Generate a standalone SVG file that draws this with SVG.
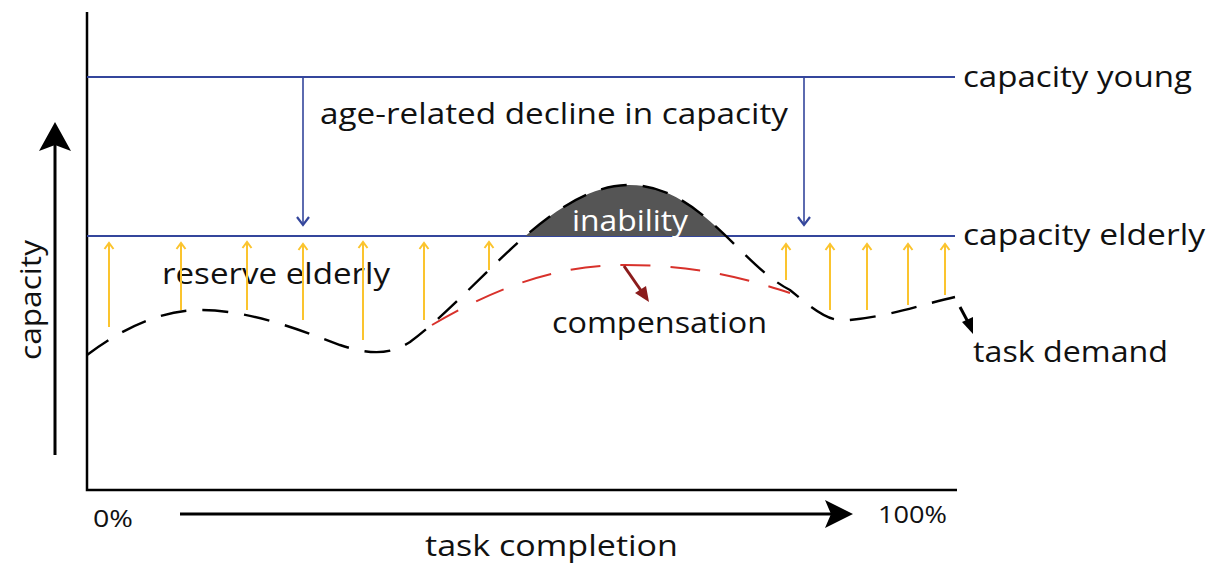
<svg xmlns="http://www.w3.org/2000/svg" width="1217" height="565" viewBox="0 0 1217 565">
  <style>
    text { font-family: "Open Sans", "Liberation Sans", sans-serif; font-size: 29px; fill: #111; }
    .axis { stroke: #000; stroke-width: 2.5; fill: none; }
    .cap { stroke: #34469c; stroke-width: 2.2; fill: none; }
    .decline { stroke: #34469c; stroke-width: 1.6; fill: none; }
    .reserve { stroke: #fbc42e; stroke-width: 2; fill: none; }
    .demand { stroke: #000; stroke-width: 2.4; fill: none; stroke-dasharray: 26 16; }
    .comp { stroke: #d8312b; stroke-width: 2; fill: none; stroke-dasharray: 30 20; }
  </style>
  <defs>
    <!-- open chevron heads, drawn pointing along +x so orient="auto" follows the line -->
    <marker id="headBlue" viewBox="0 0 12 14" refX="10" refY="7" markerWidth="12" markerHeight="14" markerUnits="userSpaceOnUse" orient="auto">
      <path d="M2,1 L10,7 L2,13" fill="none" stroke="#34469c" stroke-width="2.2"/>
    </marker>
    <marker id="headYellow" viewBox="0 0 10 12" refX="8" refY="6" markerWidth="10" markerHeight="12" markerUnits="userSpaceOnUse" orient="auto">
      <path d="M2,1.5 L8,6 L2,10.5" fill="none" stroke="#fbc42e" stroke-width="2"/>
    </marker>
    <clipPath id="aboveElderly">
      <rect x="400" y="0" width="420" height="236"/>
    </clipPath>
  </defs>

  <!-- axes -->
  <g id="axes">
    <path class="axis" d="M87,12 V490 H957"/>
  </g>

  <!-- capacity levels -->
  <g id="capacity-young">
    <line class="cap" x1="87" y1="77" x2="955" y2="77"/>
    <text x="963" y="87" textLength="229" lengthAdjust="spacingAndGlyphs">capacity young</text>
  </g>
  <g id="capacity-elderly">
    <line class="cap" x1="87" y1="236" x2="955" y2="236"/>
    <text x="963" y="245" textLength="242" lengthAdjust="spacingAndGlyphs">capacity elderly</text>
  </g>

  <!-- inability hump: demand above elderly capacity -->
  <g id="inability">
    <path clip-path="url(#aboveElderly)" fill="#555555" d="M410,342 C480,290 550,186 628,185 C700,184 740,265 790,290 Z"/>
    <text x="572" y="231" textLength="116" lengthAdjust="spacingAndGlyphs" style="fill:#ffffff">inability</text>
  </g>

  <g id="decline-label">
    <text x="320" y="124" textLength="468" lengthAdjust="spacingAndGlyphs">age-related decline in capacity</text>
  </g>

  <g id="reserve-label">
    <text x="162" y="284" textLength="228" lengthAdjust="spacingAndGlyphs">reserve elderly</text>
  </g>

  <g id="compensation-label">
    <text x="552" y="333" textLength="215" lengthAdjust="spacingAndGlyphs">compensation</text>
  </g>

  <g id="task-demand-label">
    <text x="973" y="362" textLength="195" lengthAdjust="spacingAndGlyphs">task demand</text>
  </g>

  <g id="axis-labels">
    <text x="41" y="300" transform="rotate(-90 41 300)" text-anchor="middle" textLength="120" lengthAdjust="spacingAndGlyphs">capacity</text>
    <text x="93" y="527" style="font-size:24px" textLength="40" lengthAdjust="spacingAndGlyphs">0%</text>
    <text x="878" y="523" style="font-size:24px" textLength="69" lengthAdjust="spacingAndGlyphs">100%</text>
    <text x="425" y="556" textLength="253" lengthAdjust="spacingAndGlyphs">task completion</text>
  </g>

  <!-- connectors -->
  <g id="connectors">
    <!-- axis direction arrows -->
    <line x1="55" y1="455" x2="55" y2="142" stroke="#000" stroke-width="3"/>
    <path d="M55,122 L71,151 L55,145 L39,151 Z" fill="#000"/>
    <line x1="180" y1="514" x2="835" y2="514" stroke="#000" stroke-width="3"/>
    <path d="M853,514 L825,500 L831,514 L825,528 Z" fill="#000"/>

    <!-- decline arrows -->
    <line class="decline" x1="303" y1="77" x2="303" y2="225" marker-end="url(#headBlue)"/>
    <line class="decline" x1="804" y1="77" x2="804" y2="225" marker-end="url(#headBlue)"/>

    <!-- reserve arrows -->
    <g class="reserve">
      <line x1="109" y1="327" x2="109" y2="243" marker-end="url(#headYellow)"/>
      <line x1="181" y1="310" x2="181" y2="243" marker-end="url(#headYellow)"/>
      <line x1="247" y1="310" x2="247" y2="242" marker-end="url(#headYellow)"/>
      <line x1="303" y1="320" x2="303" y2="244" marker-end="url(#headYellow)"/>
      <line x1="363" y1="340" x2="363" y2="242" marker-end="url(#headYellow)"/>
      <line x1="424" y1="320" x2="424" y2="243" marker-end="url(#headYellow)"/>
      <line x1="489" y1="270" x2="489" y2="242" marker-end="url(#headYellow)"/>
      <line x1="786" y1="280" x2="786" y2="244" marker-end="url(#headYellow)"/>
      <line x1="830" y1="310" x2="830" y2="244" marker-end="url(#headYellow)"/>
      <line x1="867" y1="310" x2="867" y2="244" marker-end="url(#headYellow)"/>
      <line x1="908" y1="305" x2="908" y2="244" marker-end="url(#headYellow)"/>
      <line x1="945" y1="295" x2="945" y2="244" marker-end="url(#headYellow)"/>
    </g>

    <!-- compensation curve and pointer -->
    <path class="comp" d="M432,325 C500,285 560,265 625,265 C700,265 750,280 790,293"/>
    <line x1="624" y1="266" x2="642" y2="292" stroke="#8b1c1c" stroke-width="3"/>
    <path d="M649,302 L635,293 L646,286 Z" fill="#8b1c1c"/>

    <!-- task demand curve -->
    <path class="demand" d="M87,355 C120,330 160,310 200,310 C250,310 300,330 340,345 C370,355 390,355 410,342 C480,290 550,186 628,185 C700,184 740,265 790,290 C820,315 830,322 850,320 C890,316 920,305 955,297"/>
    <line x1="960" y1="307" x2="968" y2="322" stroke="#000" stroke-width="3"/>
    <path d="M973,334 L962,322 L973,317 Z" fill="#000"/>
  </g>
</svg>
